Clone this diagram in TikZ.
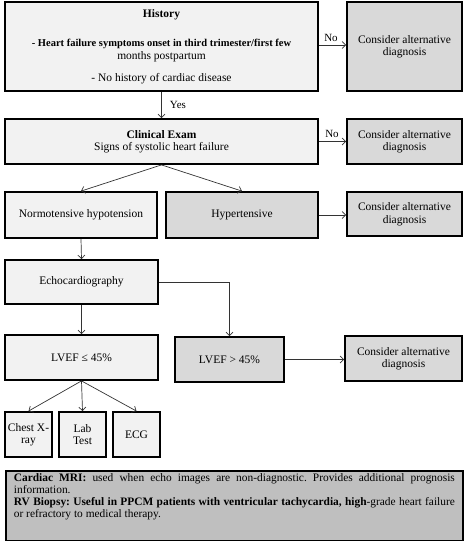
\documentclass[tikz,border=0pt]{standalone}
\usepackage{fontspec}
\setmainfont{Liberation Serif}
\usetikzlibrary{arrows.meta}
\definecolor{lightfill}{HTML}{F2F2F2}
\definecolor{midfill}{HTML}{D9D9D9}
\definecolor{notefill}{HTML}{BFBFBF}
\definecolor{arrowcol}{HTML}{333333}
\tikzset{
  box/.style={draw=black, line width=1.8pt, inner sep=2pt, align=center,
    font=\fontsize{11.5}{12.5}\selectfont},
  lbox/.style={box, fill=lightfill},
  gbox/.style={box, fill=midfill},
  conn/.style={draw=arrowcol, line width=0.7pt, -{Straight Barb[length=3.5pt,width=7pt]}},
  lbl/.style={font=\fontsize{11}{12}\selectfont, inner sep=1pt}
}
\begin{document}
\frenchspacing
\begin{tikzpicture}[x=1pt,y=-1pt]
\useasboundingbox (0,0) rectangle (466,541);
% boxes
\node[lbox, minimum width=313pt, minimum height=89pt] (hist) at (161.5,46.5)
  {\textbf{History}\\[17pt]{\fontsize{10.5}{12}\selectfont\bfseries - Heart failure symptoms onset in third trimester/first few}\\months postpartum\\[10pt]- No history of cardiac disease};
\node[gbox, minimum width=115pt, minimum height=89pt] (c1) at (404.5,46.5) {Consider alternative\\diagnosis};
\node[lbox, minimum width=313pt, minimum height=45pt] (clin) at (161.5,141.5) {\textbf{Clinical Exam}\\Signs of systolic heart failure};
\node[gbox, minimum width=115pt, minimum height=45pt] (c2) at (404.5,141.5) {Consider alternative\\diagnosis};
\node[lbox, minimum width=152pt, minimum height=46pt] (normo) at (81,215) {Normotensive hypotension};
\node[gbox, minimum width=152pt, minimum height=46pt] (hyper) at (242,215) {Hypertensive};
\node[gbox, minimum width=115pt, minimum height=44pt] (c3) at (404.5,214) {Consider alternative\\diagnosis};
\node[lbox, minimum width=153pt, minimum height=44pt] (echo) at (81.5,282) {Echocardiography};
\node[lbox, minimum width=153pt, minimum height=45pt] (lvefl) at (81.5,357.5) {LVEF ≤ 45\%};
\node[gbox, minimum width=109pt, minimum height=45pt] (lvefg) at (229.5,359.5) {LVEF > 45\%};
\node[gbox, minimum width=117pt, minimum height=45pt] (c4) at (403.5,358.5) {Consider alternative\\diagnosis};
\node[lbox, minimum width=47pt, minimum height=45pt, inner sep=0pt] (chest) at (28.5,434.5) {Chest X-\\ray};
\node[lbox, minimum width=47pt, minimum height=45pt, inner sep=0pt] (lab) at (82.5,434.5) {Lab\\Test};
\node[lbox, minimum width=47pt, minimum height=45pt, inner sep=0pt] (ecg) at (136.5,434.5) {ECG};
\node[draw=black, line width=1.8pt, fill=notefill, inner xsep=8pt, inner ysep=3pt, anchor=north west,
  font=\fontsize{11.4}{11.8}\selectfont] (note) at (5,470)
  {\parbox[t][64pt][t]{441pt}{\hyphenpenalty=10000\relax
   \textbf{Cardiac MRI:} used when echo images are non-diagnostic. Provides additional prognosis\linebreak information.\par
   \textbf{RV Biopsy: Useful in PPCM patients with ventricular tachycardia, high}-grade heart failure\linebreak or refractory to medical therapy.}};
% connectors
\draw[conn] ([yshift=1.5pt]hist.east) -- ([yshift=1.5pt]c1.west);
\node[lbl] (no1) at (331,38) {No};
\draw[conn] (hist.south) -- (clin.north);
\node[lbl] (yes1) at (178,105) {Yes};
\draw[conn] (clin.east) -- (c2.west);
\node[lbl] (no2) at (332,134) {No};
\draw[conn] (clin.south) -- (normo.north);
\draw[conn] (clin.south) -- (hyper.north);
\draw[conn] (hyper.east) -- (hyper.east -| c3.west);
\draw[conn] (normo.south) -- (echo.north);
\draw[conn] (echo.south) -- (lvefl.north);
\draw[conn] (echo.east) -| (lvefg.north);
\draw[conn] (lvefg.east) -- (lvefg.east -| c4.west);
\draw[conn] (lvefl.south) -- (chest.north);
\draw[conn] (lvefl.south) -- (lab.north);
\draw[conn] (lvefl.south) -- (ecg.north);
\end{tikzpicture}
\end{document}
